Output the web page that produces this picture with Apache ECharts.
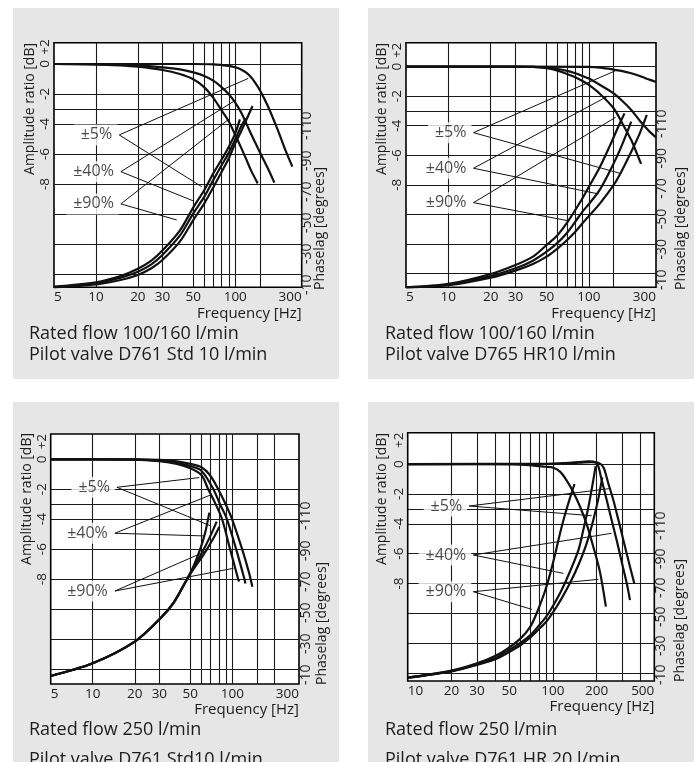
<!DOCTYPE html>
<html>
<head>
<meta charset="utf-8">
<title>Frequency response</title>
<script src="https://cdn.jsdelivr.net/npm/echarts@6.0.0/dist/echarts.min.js"></script>
<style>
html,body{margin:0;padding:0;background:#ffffff;}
#chart{width:695px;height:762px;}
</style>
</head>
<body>
<div id="chart"></div>
<script>
// ================= DATA =================
const ANNO_TEXT = ['±5%', '±40%', '±90%'];
const DB_GRID = [0, -2, -3, -4, -6, -8, -10, -12, -14];
const DB_TICK_TEXT = ['-8', '-6', '-4', '-2', '0', '+2'];
const PHASE_TICK_TEXT = ['-10', '-30', '-50', '-70', '-90', '-110'];

// ---- Panel 1: Rated flow 100/160 l/min, D761 Std 10 l/min ----
const P1_xTicks = [5, 10, 20, 30, 50, 100, 300];
const P1_vGrid = [10, 20, 30, 50, 60, 70, 80, 90, 100, 150];
const P1_dbTicks = [-8, -6, -4, -2, 0, 1.13];
const P1_amp5 = [[5,0],[50,0],[70,-0.02],[80,-0.07],[90,-0.13],[100,-0.22],[110,-0.36],[120,-0.58],[130,-0.89],[140,-1.29],[150,-1.73],[170,-2.73],[200,-4.29],[230,-5.78],[257,-6.84]];
const P1_amp40 = [[5,0],[10,-0.02],[20,-0.09],[30,-0.22],[40,-0.36],[50,-0.56],[60,-0.8],[70,-1.13],[80,-1.56],[90,-2.02],[100,-2.58],[110,-3.22],[120,-3.96],[130,-4.67],[140,-5.29],[150,-5.87],[170,-6.89],[191,-7.91]];
const P1_amp90 = [[5,0],[10,-0.02],[15,-0.09],[20,-0.18],[30,-0.4],[40,-0.67],[50,-1.02],[60,-1.56],[70,-2.29],[80,-3.11],[90,-3.84],[100,-4.73],[110,-5.56],[120,-6.36],[130,-7.11],[145,-7.96]];
const P1_ph5 = [[5,0],[10,-2.2],[15,-5.4],[20,-9.1],[25,-14],[30,-20.1],[40,-33.6],[50,-49.5],[60,-61.8],[70,-74],[80,-85.1],[90,-94.9],[100,-105.9],[110,-114.5],[120,-123.1],[133,-133.4]];
const P1_ph40 = [[5,-0.2],[10,-2.9],[15,-7.1],[20,-11.5],[25,-16.9],[30,-23.8],[40,-38],[50,-54.4],[60,-66.7],[70,-79.4],[80,-90],[90,-99.1],[100,-108.9],[110,-118.2],[119,-124.3]];
const P1_ph90 = [[5,-0.5],[10,-3.7],[15,-8.3],[20,-13.7],[25,-19.6],[30,-27],[40,-41.7],[50,-58.8],[60,-71.6],[70,-84.3],[80,-94.2],[90,-103.5],[100,-113.3],[108,-123.6]];
const P1_lead5 = [[124,-0.96],[14.7,-4.73],[57.4,-8.18]];
const P1_lead40 = [[101,-2.4],[15.1,-7.18],[50,-9.13]];
const P1_lead90 = [[91.7,-3.62],[15.1,-9.33],[38,-10.4]];
const P1_caption = ['Rated flow 100/160 l/min', 'Pilot valve D761 Std 10 l/min'];

// ---- Panel 2: Rated flow 100/160 l/min, D765 HR10 l/min ----
const P2_xTicks = [5, 10, 20, 30, 50, 100, 300];
const P2_vGrid = [10, 20, 30, 50, 60, 70, 80, 90, 100, 150];
const P2_dbTicks = [-8, -6, -4, -2, 0, 1.1];
const P2_amp5 = [[5,0],[100,-0.02],[120,-0.07],[150,-0.2],[170,-0.29],[200,-0.45],[230,-0.63],[250,-0.77],[270,-0.88],[300,-1.04]];
const P2_amp40 = [[5,0],[40,-0.02],[50,-0.07],[60,-0.16],[70,-0.29],[80,-0.45],[90,-0.63],[100,-0.81],[120,-1.24],[150,-1.81],[170,-2.26],[200,-2.93],[230,-3.66],[250,-4.06],[270,-4.4],[300,-4.79]];
const P2_amp90 = [[5,0],[30,0],[40,-0.02],[50,-0.11],[60,-0.27],[70,-0.5],[80,-0.72],[90,-0.97],[100,-1.24],[120,-1.85],[150,-2.82],[170,-3.72],[200,-4.97],[220,-5.91],[235,-6.59]];
const P2_ph5 = [[5,0],[10,-1.5],[20,-7.1],[30,-12.3],[40,-17.2],[50,-22.6],[60,-28.7],[70,-34.8],[80,-40.9],[90,-47.1],[100,-52.5],[120,-61.8],[150,-75.3],[170,-85.1],[200,-99.8],[230,-113.3],[258,-126.8]];
const P2_ph40 = [[5,0],[10,-2],[20,-8.3],[30,-14],[40,-19.6],[50,-26.2],[60,-32.9],[70,-40.2],[80,-48.3],[90,-55.7],[100,-61.3],[120,-72.1],[150,-91.2],[170,-103.5],[200,-121.9]];
const P2_ph90 = [[5,0],[10,-2.5],[20,-9.8],[30,-16.4],[40,-22.6],[50,-31.1],[60,-38.5],[70,-47.6],[80,-56.9],[90,-65.5],[100,-74],[120,-88.8],[140,-103.5],[160,-117],[179,-128]];
const P2_lead5 = [[155,-0.27],[15.1,-4.47],[166,-7.22]];
const P2_lead40 = [[137,-1.99],[15.1,-6.88],[117,-8.62]];
const P2_lead90 = [[155,-3.43],[15.1,-9.21],[70.6,-10.43]];
const P2_caption = ['Rated flow 100/160 l/min', 'Pilot valve D765 HR10 l/min'];

// ---- Panel 3: Rated flow 250 l/min, D761 Std10 l/min ----
const P3_xTicks = [5, 10, 20, 30, 50, 100, 300];
const P3_vGrid = [10, 20, 30, 50, 60, 70, 80, 90, 100, 150, 200];
const P3_dbTicks = [-8, -6, -4, -2, 0, 1.18];
const P3_amp5 = [[5,0],[20,0],[30,-0.04],[40,-0.13],[50,-0.31],[60,-0.53],[69,-1.05],[79,-1.98],[90,-3.05],[99,-3.94],[117,-5.95],[132,-7.62],[139,-8.51]];
const P3_amp40 = [[5,0],[20,-0.02],[30,-0.09],[40,-0.22],[50,-0.45],[60,-0.76],[73,-1.98],[82,-3.05],[91,-3.94],[106,-5.95],[122,-8.0],[124,-8.29]];
const P3_amp90 = [[5,0],[20,-0.02],[30,-0.13],[40,-0.31],[50,-0.6],[60,-1.05],[67,-1.98],[75,-2.9],[84,-3.94],[96,-5.95],[110,-8.0],[112,-8.17]];
const P3_ph5 = [[5,-5.8],[10,-14.9],[20,-30.5],[31,-48],[38,-58.6],[47,-74.9],[52.5,-82.6],[62,-92.9],[73.1,-104.9],[80.7,-113.3]];
const P3_ph40 = [[5,-5.8],[10,-14.9],[20,-30.5],[31,-48],[38,-58.6],[47,-74.9],[52.5,-83.3],[60.3,-94.1],[69.2,-106.1],[77.2,-116.9]];
const P3_ph90 = [[5,-5.8],[10,-14.9],[20,-30.5],[31,-48],[38,-58.6],[47,-74.9],[52.5,-84.5],[58.6,-96.5],[63.7,-108.5],[68.4,-123.4]];
const P3_lead5 = [[58,-1.22],[14.9,-1.87],[69.2,-4.43]];
const P3_lead40 = [[70,-2.38],[14.4,-4.94],[63.7,-5.12]];
const P3_lead90 = [[66.2,-6.1],[14.4,-8.8],[102,-7.28]];
const P3_caption = ['Rated flow 250 l/min', 'Pilot valve D761 Std10 l/min'];

// ---- Panel 4: Rated flow 250 l/min, D761 HR 20 l/min ----
const P4_xTicks = [10, 20, 30, 50, 100, 200, 500];
const P4_vGrid = [20, 30, 40, 50, 60, 70, 80, 90, 100, 200, 300, 400];
const P4_dbTicks = [-8, -6, -4, -2, 0, 1.6];
const P4_amp5 = [[10,0],[115,0.02],[150,0.09],[185,0.13],[206,0.09],[223,-0.22],[241,-1.29],[261,-2.41],[283,-3.75],[306,-5.09],[331,-6.43],[364,-7.99]];
const P4_amp40 = [[10,0],[88,0.02],[121,0.07],[150,0.13],[176,0.18],[190,0.16],[203,0],[217,-1.07],[235,-2.41],[254,-3.75],[275,-5.09],[298,-6.54],[323,-7.99],[340,-9.11]];
const P4_amp90 = [[10,0],[52,-0.02],[72,-0.09],[88,-0.18],[101,-0.25],[112,-0.51],[124,-1.07],[138,-1.85],[154,-2.86],[171,-4.02],[190,-5.54],[211,-7.21],[232,-9.55]];
const P4_ph5 = [[10,-2.4],[20,-7],[30,-11.6],[40,-15.7],[49,-20.5],[60,-26.1],[70,-31.6],[79,-37],[90,-43],[101,-50.3],[115,-59.9],[131,-70.8],[150,-84.1],[171,-99.8],[190,-116.7],[206,-132.4],[219,-147.6]];
const P4_ph40 = [[10,-2.4],[20,-7.2],[30,-12.1],[40,-16.4],[49,-22],[60,-27.8],[70,-33.3],[79,-39.4],[90,-46.6],[101,-55.1],[115,-66],[131,-79.2],[150,-94.9],[162,-109.4],[176,-126.4],[190,-145.7],[197,-155.8]];
const P4_ph90 = [[10,-2.4],[20,-7.5],[30,-12.8],[40,-18.1],[49,-23.7],[60,-30.9],[70,-39.4],[79,-51.5],[88,-64.7],[96,-78],[104,-92.5],[112,-107],[121,-120.3],[131,-132.4],[141,-142.8]];
const P4_lead5 = [[252,-1.63],[26.5,-2.81],[185,-3.46]];
const P4_lead40 = [[254,-4.64],[28.3,-6.09],[118,-7.32]];
const P4_lead90 = [[206,-7.72],[28.3,-8.55],[71.5,-9.73]];
const P4_caption = ['Rated flow 250 l/min', 'Pilot valve D761 HR 20 l/min'];

// ================= LAYOUT =================
const FONT = '"Open Sans", "Noto Sans", "DejaVu Sans", sans-serif';
const TEXT = '#1c1c1c';
const GRAY = '#e6e6e7';

const panels = [
  { box:[13,8,326,371], grid:{left:54, top:42.7, width:247.7, height:244.6},
    xMin:5, xMax:300, dbMin:-14.89, dbMax:1.42,
    xTicks:P1_xTicks, vGrid:P1_vGrid, dbTicks:P1_dbTicks,
    amp:[P1_amp5,P1_amp40,P1_amp90], ph:[P1_ph5,P1_ph40,P1_ph90], lead:[P1_lead5,P1_lead40,P1_lead90],
    ampTitle:[30,43], phNums:[307.5,295,112], phTitle:[320,290], freq:[301.7,313.5],
    cap:[29,334.3,355.3], caption:P1_caption },
  { box:[368,8,326,371], grid:{left:406, top:42.7, width:250, height:244.6},
    xMin:5, xMax:300, dbMin:-14.94, dbMax:1.62,
    xTicks:P2_xTicks, vGrid:P2_vGrid, dbTicks:P2_dbTicks,
    amp:[P2_amp5,P2_amp40,P2_amp90], ph:[P2_ph5,P2_ph40,P2_ph90], lead:[P2_lead5,P2_lead40,P2_lead90],
    ampTitle:[381.7,43], phNums:[662,290,110], phTitle:[681.5,290], freq:[656,313.5],
    cap:[385,334.3,355.3], caption:P2_caption },
  { box:[13,402,326,360], grid:{left:50.7, top:434, width:248.3, height:250},
    xMin:5, xMax:300, dbMin:-15.01, dbMax:1.69,
    xTicks:P3_xTicks, vGrid:P3_vGrid, dbTicks:P3_dbTicks,
    amp:[P3_amp5,P3_amp40,P3_amp90], ph:[P3_ph5,P3_ph40,P3_ph90], lead:[P3_lead5,P3_lead40,P3_lead90],
    ampTitle:[27,433], phNums:[306,685,502], phTitle:[322,685], freq:[299,709.5],
    cap:[29,730,759.5], caption:P3_caption },
  { box:[368,402,326,360], grid:{left:407.7, top:432.7, width:246.6, height:248.3},
    xMin:10, xMax:500, dbMin:-14.53, dbMax:2.1,
    xTicks:P4_xTicks, vGrid:P4_vGrid, dbTicks:P4_dbTicks,
    amp:[P4_amp5,P4_amp40,P4_amp90], ph:[P4_ph5,P4_ph40,P4_ph90], lead:[P4_lead5,P4_lead40,P4_lead90],
    ampTitle:[381.7,433], phNums:[661,685,512], phTitle:[680.5,682], freq:[654.3,706.5],
    cap:[385,730,759.5], caption:P4_caption }
];

const grids = [], xAxes = [], yAxes = [], series = [], graphics = [];

function txt(x, y, text, size, align, vAlign, rot) {
  return { type:'text', x:x, y:y, rotation:rot || 0, silent:true, z:5,
    style:{ text:text, fontSize:size, fontFamily:FONT, fill:TEXT, align:align, verticalAlign:vAlign } };
}

panels.forEach(function (p, i) {
  grids.push(Object.assign({ show:true, backgroundColor:'#ffffff', borderColor:'#000000', borderWidth:1.6 }, p.grid));
  xAxes.push({ type:'log', logBase:10, gridIndex:i, min:p.xMin, max:p.xMax,
    axisLine:{show:false}, axisTick:{show:false}, splitLine:{show:false}, minorSplitLine:{show:false},
    axisLabel:{ customValues:p.xTicks, showMinLabel:true, showMaxLabel:true,
      alignMinLabel:'left', alignMaxLabel:'right',
      formatter:function (v) { return String(Math.round(v)); },
      fontSize:13.5, fontFamily:FONT, color:TEXT, margin:3 } });
  yAxes.push({ type:'value', gridIndex:i, position:'left', min:p.dbMin, max:p.dbMax,
    axisLine:{show:false}, axisTick:{show:false}, splitLine:{show:false},
    axisLabel:{ customValues:p.dbTicks, rotate:90, margin:2, fontSize:13.5, fontFamily:FONT, color:TEXT,
      formatter:function (v) { var k = p.dbTicks.indexOf(v); return k >= 0 ? DB_TICK_TEXT[k] : String(v); } } });
  yAxes.push({ type:'value', gridIndex:i, position:'right', min:-180, max:0, inverse:true, show:false });

  const dbAxis = 2 * i, phAxis = 2 * i + 1;
  p.amp.forEach(function (d, k) {
    const s = { type:'line', xAxisIndex:i, yAxisIndex:dbAxis, data:d, symbol:'none', smooth:0.3,
      lineStyle:{color:'#111111', width:2.2}, z:4, silent:true };
    if (k === 0) {
      s.markLine = { silent:true, symbol:['none','none'], label:{show:false}, z:1, animation:false,
        lineStyle:{color:'#1a1a1a', width:1.1, type:'solid'},
        data: p.vGrid.map(function (v) { return {xAxis:v}; }).concat(DB_GRID.map(function (v) { return {yAxis:v}; })) };
    }
    series.push(s);
  });
  p.ph.forEach(function (d) {
    series.push({ type:'line', xAxisIndex:i, yAxisIndex:phAxis, data:d, symbol:'none', smooth:0.3,
      lineStyle:{color:'#111111', width:2.2}, z:4, silent:true });
  });
  p.lead.forEach(function (d) {
    series.push({ type:'line', xAxisIndex:i, yAxisIndex:dbAxis, data:d, symbol:'none', smooth:false,
      lineStyle:{color:'#111111', width:1}, z:6, silent:true });
  });
  series.push({ type:'scatter', xAxisIndex:i, yAxisIndex:dbAxis, symbolSize:0, z:10, silent:true,
    data:p.lead.map(function (d) { return d[1]; }),
    label:{ show:true, position:'left', distance:2,
      formatter:function (prm) { return ANNO_TEXT[prm.dataIndex]; },
      fontSize:16, fontFamily:FONT, color:TEXT, backgroundColor:'#ffffff', padding:[3,5,2,7] } });

  // panel background & texts
  graphics.push({ type:'rect', shape:{x:p.box[0], y:p.box[1], width:p.box[2], height:p.box[3]},
    style:{fill:GRAY}, z:-1, silent:true });
  graphics.push(txt(p.ampTitle[0], p.ampTitle[1], 'Amplitude ratio [dB]', 14, 'right', 'middle', Math.PI / 2));
  const step = (p.phNums[1] - p.phNums[2] - 28) / 5;
  PHASE_TICK_TEXT.forEach(function (t, k) {
    graphics.push(txt(p.phNums[0], p.phNums[1] - k * step, t, 14, 'left', 'middle', Math.PI / 2));
  });
  graphics.push(txt(p.phTitle[0], p.phTitle[1], 'Phaselag [degrees]', 14, 'left', 'middle', Math.PI / 2));
  graphics.push(txt(p.freq[0], p.freq[1], 'Frequency [Hz]', 15, 'right', 'middle', 0));
  graphics.push(txt(p.cap[0], p.cap[1], p.caption[0], 18, 'left', 'middle', 0));
  graphics.push(txt(p.cap[0], p.cap[2], p.caption[1], 18, 'left', 'middle', 0));
});

const chart = echarts.init(document.getElementById('chart'), null, { renderer:'canvas' });
chart.setOption({
  animation:false,
  backgroundColor:'#ffffff',
  grid:grids, xAxis:xAxes, yAxis:yAxes, series:series,
  graphic:{ elements:graphics }
});
</script>
</body>
</html>
